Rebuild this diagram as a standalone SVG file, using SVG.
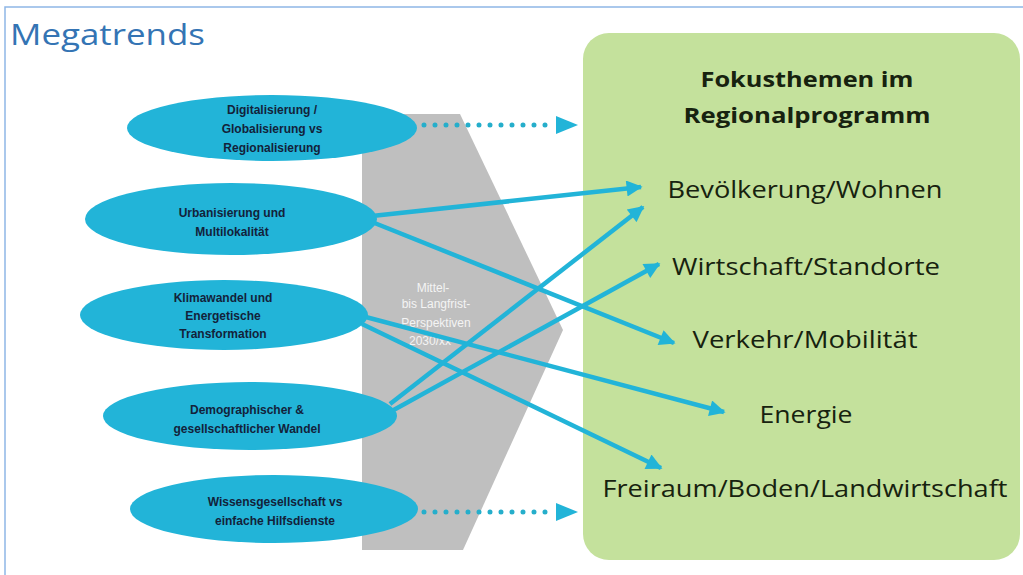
<svg xmlns="http://www.w3.org/2000/svg" width="1023" height="575" viewBox="0 0 1023 575">
<defs>
<style>
.frame{fill:none;stroke:#8fb6e6;stroke-width:1.5}
.trend{fill:#22b4d8}
.tt{font-family:"Liberation Sans",Arial,sans-serif;font-size:12px;font-weight:bold;fill:#13223a;text-anchor:middle}
.gt{font-family:"Liberation Sans",Arial,sans-serif;font-size:12px;fill:#f4f4f4;text-anchor:middle}
.topic{font-family:"Open Sans","Noto Sans",sans-serif;font-size:24px;fill:#17220f;text-anchor:middle}
.head{font-family:"Open Sans","Noto Sans",sans-serif;font-size:22px;font-weight:bold;fill:#17220f;text-anchor:middle}
.conn{stroke:#22b4d8;stroke-width:4.5;fill:none}
.dot{stroke:#25aecb;stroke-width:5;stroke-linecap:round;stroke-dasharray:0 11;fill:none}
</style>
<marker id="ah" viewBox="0 0 10 10" refX="9" refY="5" markerWidth="18" markerHeight="16" markerUnits="userSpaceOnUse" orient="auto">
<path d="M0,0 L10,5 L0,10 Z" fill="#22b4d8"/>
</marker>
</defs>
<rect width="1023" height="575" fill="#ffffff"/>
<path class="frame" d="M5,575 V7 H1023"/>
<text id="title" x="10" y="45" font-family="Open Sans,Noto Sans,sans-serif" font-size="30" fill="#3474b4" textLength="195" lengthAdjust="spacingAndGlyphs">Megatrends</text>

<g id="chevron">
<polygon points="362,114 460,114 563,330 463,550 362,550" fill="#bfbfbf"/>
<text class="gt" x="433" y="292">Mittel-</text>
<text class="gt" x="436" y="308">bis Langfrist-</text>
<text class="gt" x="436" y="327">Perspektiven</text>
<text class="gt" x="430" y="345">2030/xx</text>
</g>

<g id="fokus">
<rect x="583" y="33" width="437" height="527" rx="26" ry="26" fill="#c4e19c"/>
<text class="head" x="807" y="87" textLength="213" lengthAdjust="spacingAndGlyphs">Fokusthemen im</text>
<text class="head" x="807" y="123" textLength="247" lengthAdjust="spacingAndGlyphs">Regionalprogramm</text>
<text class="topic" x="805" y="198" textLength="275" lengthAdjust="spacingAndGlyphs">Bevölkerung/Wohnen</text>
<text class="topic" x="806" y="275" textLength="268" lengthAdjust="spacingAndGlyphs">Wirtschaft/Standorte</text>
<text class="topic" x="805" y="348" textLength="225" lengthAdjust="spacingAndGlyphs">Verkehr/Mobilität</text>
<text class="topic" x="806" y="423" textLength="93" lengthAdjust="spacingAndGlyphs">Energie</text>
<text class="topic" x="805" y="497" textLength="405" lengthAdjust="spacingAndGlyphs">Freiraum/Boden/Landwirtschaft</text>
</g>

<g id="connectors">
<line class="dot" x1="424" y1="125" x2="556" y2="125"/>
<path d="M556,116 L578,125 L556,134 Z" fill="#22b4d8"/>
<line class="dot" x1="424" y1="512" x2="556" y2="512"/>
<path d="M556,503 L578,512 L556,521 Z" fill="#22b4d8"/>
<line class="conn" x1="372" y1="216" x2="641" y2="187" marker-end="url(#ah)"/>
<line class="conn" x1="372" y1="222" x2="674" y2="343" marker-end="url(#ah)"/>
<line class="conn" x1="362" y1="316" x2="724" y2="412" marker-end="url(#ah)"/>
<line class="conn" x1="362" y1="324" x2="661" y2="468" marker-end="url(#ah)"/>
<line class="conn" x1="390" y1="404" x2="643" y2="207" marker-end="url(#ah)"/>
<line class="conn" x1="390" y1="412" x2="659" y2="264" marker-end="url(#ah)"/>
</g>

<g id="trend1">
<ellipse class="trend" cx="272" cy="128" rx="145" ry="33"/>
<text class="tt" x="272" y="114">Digitalisierung /</text>
<text class="tt" x="272" y="133">Globalisierung vs</text>
<text class="tt" x="272" y="152">Regionalisierung</text>
</g>
<g id="trend2">
<ellipse class="trend" cx="231" cy="219" rx="146" ry="36"/>
<text class="tt" x="232" y="217">Urbanisierung und</text>
<text class="tt" x="232" y="236">Multilokalität</text>
</g>
<g id="trend3">
<ellipse class="trend" cx="224" cy="315" rx="144" ry="35"/>
<text class="tt" x="223" y="302">Klimawandel und</text>
<text class="tt" x="223" y="320">Energetische</text>
<text class="tt" x="223" y="338">Transformation</text>
</g>
<g id="trend4">
<ellipse class="trend" cx="250" cy="416" rx="147" ry="34"/>
<text class="tt" x="247" y="414">Demographischer &amp;</text>
<text class="tt" x="247" y="433">gesellschaftlicher Wandel</text>
</g>
<g id="trend5">
<ellipse class="trend" cx="274" cy="509" rx="144" ry="34"/>
<text class="tt" x="275" y="506">Wissensgesellschaft vs</text>
<text class="tt" x="275" y="525">einfache Hilfsdienste</text>
</g>
</svg>
